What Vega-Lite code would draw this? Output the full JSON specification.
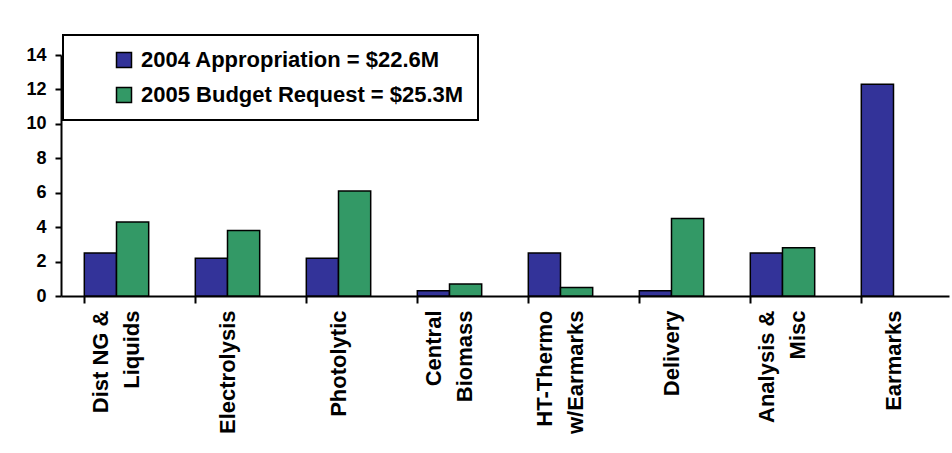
{
  "$schema": "https://vega.github.io/schema/vega-lite/v6.json",
  "width": 888,
  "height": 241,
  "autosize": {"type": "none"},
  "padding": {"left": 61, "top": 55, "right": 3, "bottom": 157},
  "background": "white",
  "config": {
    "view": {"stroke": null},
    "font": "Liberation Sans",
    "legend": {"strokeWidth": 2}
  },
  "data": {
    "values": [
      {"category": "Dist NG & Liquids", "series": "2004 Appropriation = $22.6M", "value": 2.5},
      {"category": "Dist NG & Liquids", "series": "2005 Budget Request = $25.3M", "value": 4.3},
      {"category": "Electrolysis", "series": "2004 Appropriation = $22.6M", "value": 2.2},
      {"category": "Electrolysis", "series": "2005 Budget Request = $25.3M", "value": 3.8},
      {"category": "Photolytic", "series": "2004 Appropriation = $22.6M", "value": 2.2},
      {"category": "Photolytic", "series": "2005 Budget Request = $25.3M", "value": 6.1},
      {"category": "Central Biomass", "series": "2004 Appropriation = $22.6M", "value": 0.3},
      {"category": "Central Biomass", "series": "2005 Budget Request = $25.3M", "value": 0.7},
      {"category": "HT-Thermo w/Earmarks", "series": "2004 Appropriation = $22.6M", "value": 2.5},
      {"category": "HT-Thermo w/Earmarks", "series": "2005 Budget Request = $25.3M", "value": 0.5},
      {"category": "Delivery", "series": "2004 Appropriation = $22.6M", "value": 0.3},
      {"category": "Delivery", "series": "2005 Budget Request = $25.3M", "value": 4.5},
      {"category": "Analysis & Misc", "series": "2004 Appropriation = $22.6M", "value": 2.5},
      {"category": "Analysis & Misc", "series": "2005 Budget Request = $25.3M", "value": 2.8},
      {"category": "Earmarks", "series": "2004 Appropriation = $22.6M", "value": 12.3}
    ]
  },
  "layer": [
    {
      "mark": {"type": "bar", "stroke": "black", "strokeWidth": 1.5},
      "encoding": {
        "x": {
          "field": "category", "type": "nominal", "sort": null,
          "scale": {"paddingInner": 0.42, "paddingOuter": 0.21},
          "axis": {"labels": false, "bandPosition": 0, "tickSize": 7, "tickColor": "black", "tickWidth": 2, "domainColor": "black", "domainWidth": 2, "title": null, "orient": "bottom"}
        },
        "xOffset": {"field": "series", "type": "nominal", "sort": null, "scale": {"paddingInner": 0, "paddingOuter": 0}},
        "y": {
          "field": "value", "type": "quantitative",
          "scale": {"domain": [0, 14]},
          "axis": {"values": [0, 2, 4, 6, 8, 10, 12, 14], "title": null, "grid": false, "tickSize": 6, "tickColor": "black", "tickWidth": 2, "domainColor": "black", "domainWidth": 2, "labelFontSize": 18, "labelFontWeight": "bold", "labelColor": "black", "labelPadding": 9, "labelOverlap": false}
        },
        "color": {
          "field": "series", "type": "nominal", "sort": null,
          "scale": {"range": ["#333399", "#339966"]},
          "legend": {"title": null, "orient": "none", "legendX": 2, "legendY": -20, "strokeColor": "black", "fillColor": "white", "padding": 14, "symbolType": "square", "symbolSize": 225, "symbolStrokeColor": "black", "symbolStrokeWidth": 1.5, "symbolOffset": 36, "labelFontSize": 22, "labelFontWeight": "bold", "labelColor": "black", "labelOffset": 6, "rowPadding": 13, "labelLimit": 600}
        }
      }
    },
    {
      "mark": {"type": "bar", "opacity": 0},
      "encoding": {
        "x": {
          "field": "category", "type": "nominal", "sort": null,
          "axis": {
            "orient": "bottom", "title": null, "ticks": false, "domain": false,
            "labelAngle": -90, "labelAlign": "right", "labelBaseline": "middle",
            "labelFontSize": 22, "labelFontWeight": "bold", "labelColor": "black",
            "labelPadding": 14, "labelLineHeight": 31, "labelLimit": 300,
            "labelOffset": {"condition": {"test": "indexof(['Dist NG & Liquids', 'Central Biomass', 'HT-Thermo w/Earmarks', 'Analysis & Misc'], datum.value) >= 0", "value": -16}, "value": 0},
            "labelExpr": "datum.label == 'Dist NG & Liquids' ? ['Dist NG &', 'Liquids'] : datum.label == 'Central Biomass' ? ['Central', 'Biomass'] : datum.label == 'HT-Thermo w/Earmarks' ? ['HT-Thermo', 'w/Earmarks'] : datum.label == 'Analysis & Misc' ? ['Analysis &', 'Misc'] : datum.label"
          }
        },
        "y": {"field": "value", "type": "quantitative", "axis": {"values": [0, 2, 4, 6, 8, 10, 12, 14], "title": null, "grid": false, "tickSize": 6, "tickColor": "black", "tickWidth": 2, "domainColor": "black", "domainWidth": 2, "labelFontSize": 18, "labelFontWeight": "bold", "labelColor": "black", "labelPadding": 9, "labelOverlap": false}}
      }
    }
  ],
  "resolve": {"axis": {"x": "independent"}}
}
